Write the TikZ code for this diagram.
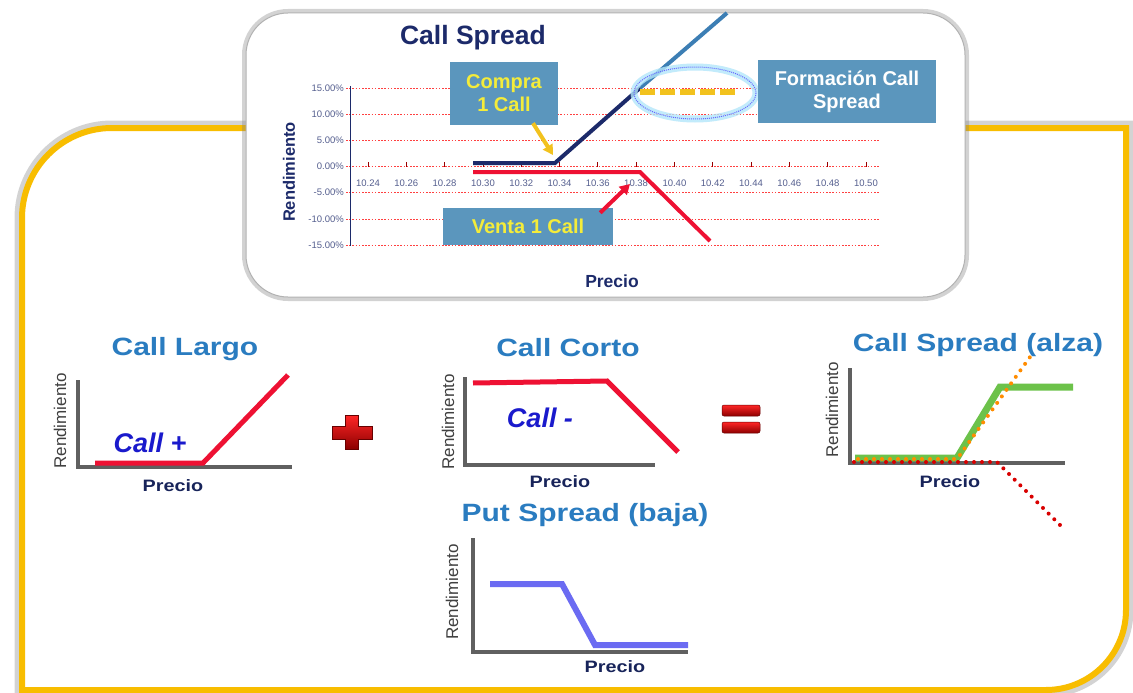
\documentclass[tikz,border=0pt]{standalone}
\usepackage{fontspec}
\setmainfont{Liberation Sans}
\newfontfamily\widefont[FakeStretch=1.2]{Liberation Sans}
\usetikzlibrary{calc,arrows.meta}

\definecolor{framegold}{HTML}{F8BD00}
\definecolor{navy}{HTML}{1C2A6A}
\definecolor{steel}{HTML}{3C7EB4}
\definecolor{titleblue}{HTML}{2A7CC0}
\definecolor{boxblue}{HTML}{5B96BD}
\definecolor{payred}{HTML}{EE1133}
\definecolor{paygreen}{HTML}{6CC24A}
\definecolor{payputblue}{HTML}{6B6BF2}
\definecolor{axisgray}{HTML}{606060}
\definecolor{callblue}{HTML}{1A1ACC}
\definecolor{boxyellow}{HTML}{F4EC3A}
\definecolor{dashgold}{HTML}{F2C21E}

\tikzset{
  gridline/.style={red!75, line width=0.7pt, dash pattern=on 1.6pt off 1.6pt},
  ticklab/.style={text=navy!75, font=\fontsize{9.5}{11}\selectfont, inner sep=1pt},
  labelbox/.style={fill=boxblue, align=center, inner sep=2pt,
    font=\bfseries\fontsize{20}{23}\selectfont},
  charttitle/.style={text=titleblue, font=\widefont\bfseries\fontsize{25}{30}\selectfont},
  rendlab/.style={rotate=90, text=black!75, font=\fontsize{17}{20}\selectfont},
  preclab/.style={text=navy!85!black, font=\widefont\bfseries\fontsize{16.5}{20}\selectfont},
  axisline/.style={axisgray, line width=4pt},
  signbar/.style={top color=red!85!white, bottom color=red!55!black, draw=red!40!black, line width=0.5pt}
}

\begin{document}
\begin{tikzpicture}[x=1pt,y=-1pt]
  \useasboundingbox (0,0) rectangle (1133,693);
  % yellow frame with grey glow
  \draw[framegold, line width=6pt, fill=white,
        preaction={draw=black!50, line width=15pt, opacity=.35}]
    (22,690) -- (22,218) arc[start angle=180, end angle=270, radius=90]
    -- (1126,128) -- (1126,610) arc[start angle=0, end angle=90, radius=80] -- cycle;
  % white chart card
  \draw[fill=white, draw=black!30, line width=1pt, rounded corners=42pt,
        preaction={draw=black!50, line width=8pt, opacity=.35}]
    (246,13) rectangle (965,297);

  % ---- top chart ----
  \node[text=navy, font=\bfseries\fontsize{26.5}{30}\selectfont] (maintitle) at (473,38) {Call Spread};
  \foreach \k/\lab in {0/15.00\%,1/10.00\%,2/5.00\%,3/0.00\%,4/-5.00\%,5/-10.00\%,6/-15.00\%} {
    \pgfmathsetmacro\yy{88+26.17*\k}
    \draw[gridline] (346,\yy) -- (880,\yy);
    \node[ticklab, anchor=east] (ylab\k) at (345,\yy) {\lab};
  }
  \draw[navy, line width=0.8pt] (350,86) -- (350,246);
  \foreach \i/\lab in {0/10.24,1/10.26,2/10.28,3/10.30,4/10.32,5/10.34,6/10.36,7/10.38,8/10.40,9/10.42,10/10.44,11/10.46,12/10.48,13/10.50} {
    \pgfmathsetmacro\xx{368+38.3*\i}
    \draw[red!60!black, line width=0.8pt] (\xx,162) -- (\xx,166.5);
    \node[ticklab] (xlab\i) at (\xx,183) {\lab};
  }
  \node[rotate=90, text=navy, font=\bfseries\fontsize{16.5}{20}\selectfont] (rendtop) at (289,172) {Rendimiento};
  \node[text=navy, font=\bfseries\fontsize{17.5}{20}\selectfont] (prectop) at (612,281) {Precio};
  % payoff lines
  \draw[navy, line width=4pt] (473,163) -- (555,163) -- (640,88);
  \draw[steel, line width=4pt] (640,88) -- (727,13);
  \draw[payred, line width=4pt] (473,172) -- (640,172) -- (710,241);
  % highlight ellipse
  \draw[cyan!30, line width=7pt, opacity=.8] (695,93) ellipse[x radius=61, y radius=26];
  \draw[blue!60, line width=1pt, dash pattern=on 1pt off 1pt] (695,93) ellipse[x radius=61, y radius=26];
  \draw[dashgold, line width=6.5pt, dash pattern=on 15pt off 5pt] (640,92) -- (738,92);
  % label boxes
  \node[labelbox, text=boxyellow, minimum width=108pt, minimum height=63pt] (compra) at (504,93.5) {Compra\\1 Call};
  \node[labelbox, text=boxyellow, minimum width=170pt, minimum height=37pt] (venta) at (528,226.5) {Venta 1 Call};
  \node[labelbox, text=white, minimum width=178pt, minimum height=63pt] (formacion) at (847,91.5) {Formación Call\\Spread};
  \coordinate (compratip) at (553,155);
  \coordinate (ventatip) at (630,184);
  \draw[dashgold, line width=4pt, -{Triangle[length=10pt,width=11pt]}] ($(compra.south)+(29,-2)$) -- (compratip);
  \draw[payred, line width=4pt, -{Triangle[length=10pt,width=11pt]}] ($(venta.north east)+(-13,5)$) -- (ventatip);

  % ---- Call Largo ----
  \node[charttitle] (tlargo) at (185,349) {Call Largo};
  \draw[axisline] (78,380) -- (78,467) -- (292,467);
  \draw[payred, line width=5pt] (95,463) -- (203,463) -- (288,375);
  \node[text=callblue, font=\bfseries\itshape\fontsize{27}{30}\selectfont] (callplus) at (150,443) {Call +};
  \node[rendlab] (rendlargo) at (60,421) {Rendimiento};
  \node[preclab] (preclargo) at (173,486) {Precio};
  % plus sign
  \path[signbar] (345.5,415) -- (358.5,415) -- (358.5,426) -- (372,426) -- (372,439) -- (358.5,439)
    -- (358.5,449) -- (345.5,449) -- (345.5,439) -- (332,439) -- (332,426) -- (345.5,426) -- cycle;

  % ---- Call Corto ----
  \node[charttitle] (tcorto) at (568,348) {Call Corto};
  \draw[axisline] (465,377) -- (465,465) -- (655,465);
  \draw[payred, line width=5pt] (473,383) -- (607,381) -- (678,452);
  \node[text=callblue, font=\bfseries\itshape\fontsize{27}{30}\selectfont] (callminus) at (540,418) {Call -};
  \node[rendlab] (rendcorto) at (448,422) {Rendimiento};
  \node[preclab] (preccorto) at (560,482) {Precio};
  % equals sign
  \path[signbar, rounded corners=2pt] (722,405) rectangle (760,416);
  \path[signbar, rounded corners=2pt] (722,422) rectangle (760,433);

  % ---- Call Spread (alza) ----
  \node[charttitle] (talza) at (978,345) {Call Spread (alza)};
  \draw[axisline] (850,368) -- (850,463) -- (1065,463);
  \draw[paygreen, line width=7pt] (855,458) -- (957,458) -- (1000,387) -- (1073,387);
  \draw[red!85!black, line width=4pt, line cap=round, dash pattern=on 0pt off 8pt] (854,462) -- (997,462) -- (1063,528);
  \draw[orange!90!yellow, line width=4pt, line cap=round, dash pattern=on 0pt off 8pt] (858,459) -- (957,459) -- (1030,357);
  \node[rendlab] (rendalza) at (832,410) {Rendimiento};
  \node[preclab] (precalza) at (950,482) {Precio};

  % ---- Put Spread (baja) ----
  \node[charttitle] (tbaja) at (585,515) {Put Spread (baja)};
  \draw[axisline] (473,538) -- (473,652) -- (688,652);
  \draw[payputblue, line width=6pt] (490,584) -- (562,584) -- (595,645) -- (688,645);
  \node[rendlab] (rendbaja) at (452,592) {Rendimiento};
  \node[preclab] (precbaja) at (615,667) {Precio};
\end{tikzpicture}
\end{document}
